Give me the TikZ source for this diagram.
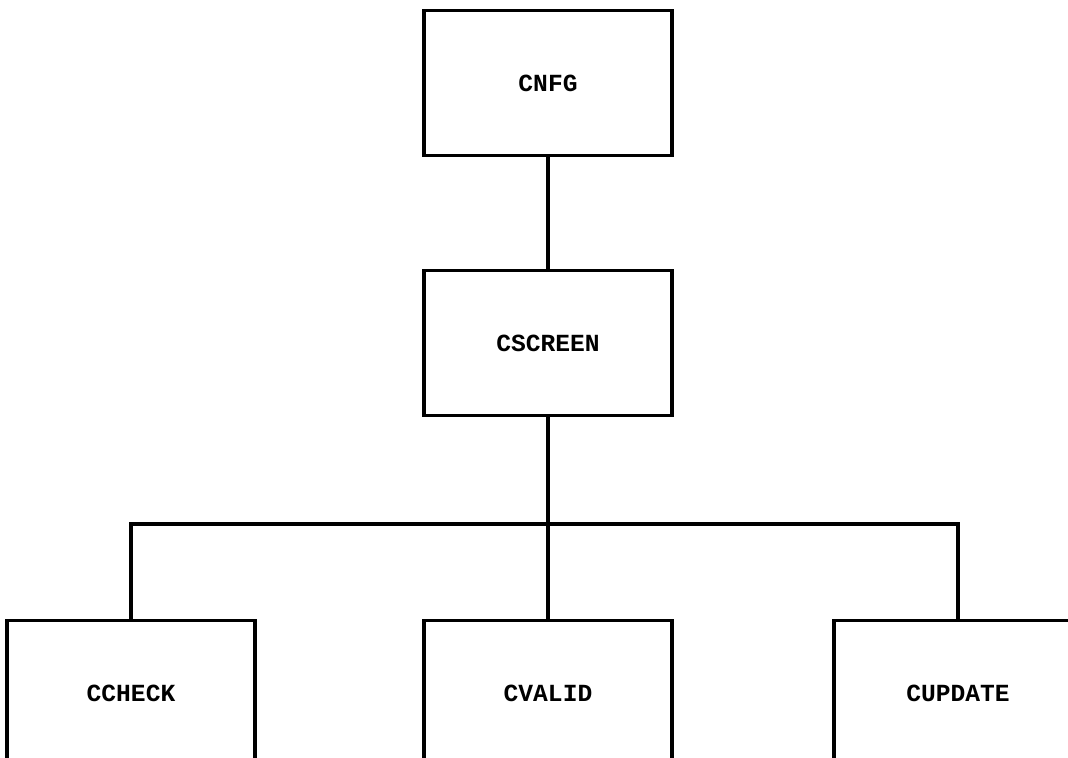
\documentclass[tikz,border=0pt]{standalone}
\usepackage{fontspec}
\setmonofont{Liberation Mono}
\tikzset{
	module/.style={draw, line width=3pt, minimum width=7.44cm, minimum height=4.35cm,
		font=\ttfamily\bfseries\fontsize{21}{24}\selectfont},
	link/.style={line width=3pt}
}
\begin{document}
\begin{tikzpicture}[x=0.03cm, y=-0.03cm]
	% frame
	\useasboundingbox (0, 0) rectangle (1068, 757);
	\clip (0, 0) rectangle (1068, 757);

	% modules
	\node[module] (cnfg) at (548, 83) {CNFG};
	\node[module] (cscreen) at (548, 343) {CSCREEN};
	\foreach \name/\x/\label in {ccheck/131/CCHECK, cvalid/548/CVALID, cupdate/958/CUPDATE}
		\node[module] (\name) at (\x, 693) {\label};

	% calls
	\coordinate (bus) at (548, 524);
	\draw[link] (cnfg) -- (cscreen);
	\draw[link] (cscreen) -- (cvalid);
	\draw[link] (ccheck.north) |- (bus) -| (cupdate.north);
\end{tikzpicture}
\end{document}
